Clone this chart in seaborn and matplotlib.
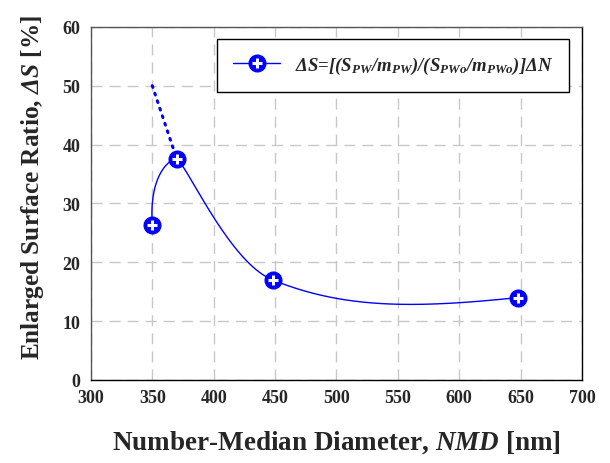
import numpy as np
import pandas as pd
import matplotlib
matplotlib.use('Agg')
import matplotlib.pyplot as plt
import seaborn as sns
from matplotlib.lines import Line2D

# данные
nmd = [350, 370, 448, 648]
delta_s = [26.4, 37.5, 17.0, 14.0]
# пунктирное продолжение вверх от второй точки
dot_x = [350, 370]
dot_y = [50.0, 37.5]

x_ticks = [300, 350, 400, 450, 500, 550, 600, 650, 700]
y_ticks = [0, 10, 20, 30, 40, 50, 60]

sns.set_style('white')
plt.rcParams['font.family'] = ['Liberation Serif', 'DejaVu Serif']
plt.rcParams['font.weight'] = 'bold'
plt.rcParams['mathtext.fontset'] = 'custom'
plt.rcParams['mathtext.rm'] = 'Liberation Serif:bold:italic'
plt.rcParams['mathtext.it'] = 'Liberation Serif:bold:italic'
plt.rcParams['mathtext.bf'] = 'Liberation Serif:bold:italic'


# сглаживание кривой: Безье с касательными Catmull-Rom,
# плечи делятся пропорционально длинам хорд, на экстремумах плечи короче
def smooth_curve(xs, ys, sx, sy, f=1 / 6, peak=0.35, n=80):
    p = np.column_stack([np.array(xs) * sx, np.array(ys) * sy])
    m = len(p)
    # фиктивные точки на концах (квадратичная экстраполяция)
    first = p[2] - 3 * p[1] + 3 * p[0]
    last = p[m - 3] - 3 * p[m - 2] + 3 * p[m - 1]
    q = np.vstack([first, p, last])
    right = [None] * m
    left = [None] * m
    for i in range(m):
        a, b, c = q[i], q[i + 1], q[i + 2]
        d = c - a
        la = np.linalg.norm(b - a)
        lc = np.linalg.norm(c - b)
        if 0 < i < m - 1:
            k = 2 * f
            if (b[1] - a[1]) * (c[1] - b[1]) < 0:
                k *= peak
            right[i] = b + d * k * lc / (la + lc)
            left[i] = b - d * k * la / (la + lc)
        else:
            right[i] = b + d * f
            left[i] = b - d * f
    out = []
    t = np.linspace(0, 1, n)[:, None]
    for i in range(m - 1):
        p1, b1, b2, p2 = p[i], right[i], left[i + 1], p[i + 1]
        seg = ((1 - t) ** 3) * p1 + 3 * ((1 - t) ** 2) * t * b1 + 3 * (1 - t) * t ** 2 * b2 + t ** 3 * p2
        out.append(seg if i == 0 else seg[1:])
    c = np.vstack(out)
    return c[:, 0] / sx, c[:, 1] / sy


fig = plt.figure(figsize=(6.1, 4.64), dpi=100)
ax = fig.add_axes([0.149, 0.179, 0.805, 0.761])

cx, cy = smooth_curve(nmd, delta_s, 491 / 400, 353 / 60)
curve = pd.DataFrame({'x': cx, 'y': cy})
sns.lineplot(data=curve, x='x', y='y', sort=False, color='#0000ff', linewidth=1.0, ax=ax)
sns.lineplot(x=dot_x, y=dot_y, color='#0000ff', linewidth=2.2, linestyle=(0, (0.6, 2.0)),
             dash_capstyle='round', ax=ax)
ax.plot(nmd, delta_s, linestyle='none', marker='o', markersize=12, color='#0000ff',
        markeredgecolor='#0000ff', zorder=5)
ax.plot(nmd, delta_s, linestyle='none', marker='+', markersize=7, markeredgewidth=2.2,
        color='white', zorder=6)

ax.set_xlim(300, 700)
ax.set_ylim(0, 60)
ax.set_xticks(x_ticks)
ax.set_yticks(y_ticks)
ax.tick_params(axis='both', labelsize=13, length=4, width=1, color='black')
ax.tick_params(axis='x', direction='inout', length=6)
for lab in ax.get_xticklabels() + ax.get_yticklabels():
    lab.set_fontweight('bold')

ax.grid(True, color='#c8c8c8', linestyle=(0, (8, 5)), linewidth=1.0)
for s in ax.spines.values():
    s.set_visible(True)
    s.set_linewidth(1.0)
    s.set_color('#555555')
ax.spines['bottom'].set_color('black')
ax.spines['right'].set_color('black')

ax.set_xlabel('Number-Median Diameter, $NMD$ [nm]', fontsize=19.5, fontweight='bold', labelpad=16)
ax.set_ylabel('Enlarged Surface Ratio, $\\Delta S$ [%]', fontsize=18.2, fontweight='bold')
ax.yaxis.set_label_coords(-0.092, 0.548)

h1 = Line2D([], [], color='#0000ff', linewidth=1.0, marker='o', markersize=12)
h2 = Line2D([], [], linestyle='none', marker='+', markersize=7, markeredgewidth=2.2, color='white')
label = '$\\Delta S$=[($S_{PW}$/$m_{PW}$)/($S_{PWo}$/$m_{PWo}$)]$\\Delta N$'
leg = ax.legend([(h1, h2)], [label], loc='upper right', bbox_to_anchor=(0.974, 0.966),
                borderaxespad=0, fancybox=False, framealpha=1, edgecolor='black',
                prop={'size': 13.5, 'weight': 'bold', 'style': 'italic'},
                handlelength=2.5, borderpad=0.85, handletextpad=0.8)
leg.get_frame().set_linewidth(1.0)

fig.savefig('out.png', dpi=100)
